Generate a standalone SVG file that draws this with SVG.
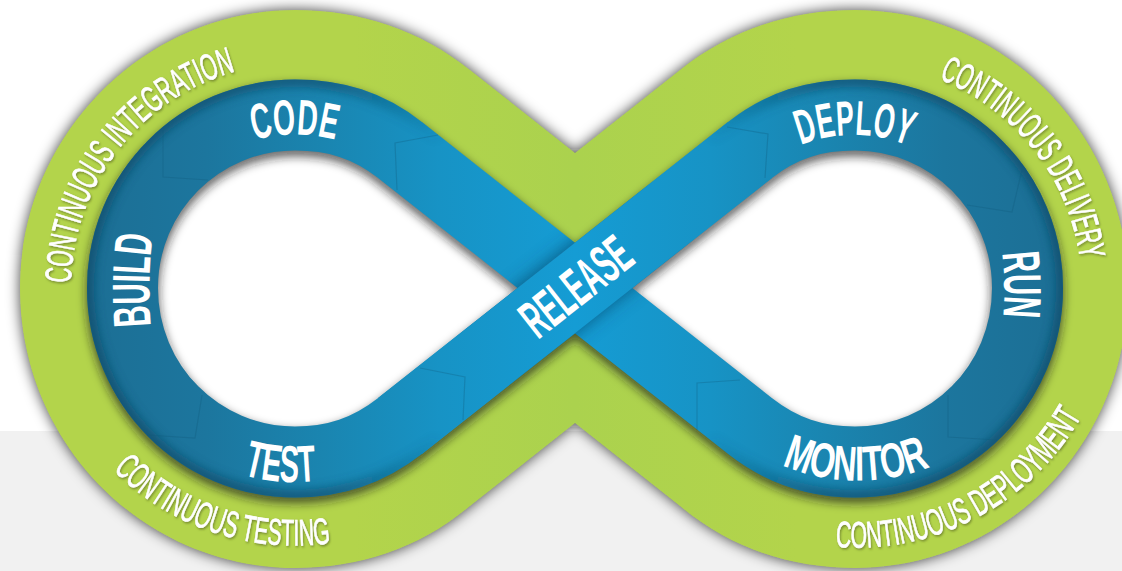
<svg xmlns="http://www.w3.org/2000/svg" width="1122" height="571" viewBox="0 0 1122 571">
<style>
.band{fill:none;stroke-width:71;stroke-linejoin:round}
.seg{fill:none;stroke:#115a7c;stroke-opacity:.3;stroke-width:1.2}
.big{font-family:"Liberation Sans",Arial,sans-serif;font-weight:700;fill:#fff}
.lab{font-family:"Liberation Sans",Arial,sans-serif;font-weight:400;font-size:37px;fill:#fff;stroke:#fff;stroke-width:.7;filter:url(#ts)}
</style>
<defs>
<linearGradient id="blue" gradientUnits="userSpaceOnUse" x1="90" y1="0" x2="1060" y2="0">
<stop offset="0" stop-color="#1c6f95"/><stop offset=".12" stop-color="#1c769e"/><stop offset=".24" stop-color="#1a85b0"/><stop offset=".36" stop-color="#1793c5"/><stop offset=".5" stop-color="#159cd4"/><stop offset=".64" stop-color="#1793c5"/><stop offset=".76" stop-color="#1a85b0"/><stop offset=".88" stop-color="#1c769e"/><stop offset="1" stop-color="#1c6f95"/>
</linearGradient>
<linearGradient id="green" gradientUnits="userSpaceOnUse" x1="20" y1="0" x2="1130" y2="0">
<stop offset=".3" stop-color="#b3d44b"/><stop offset=".5" stop-color="#abd24e"/><stop offset=".7" stop-color="#b3d44b"/>
</linearGradient>
<linearGradient id="edge" gradientUnits="userSpaceOnUse" x1="80" y1="0" x2="1070" y2="0">
<stop offset="0" stop-color="#0f4f6e" stop-opacity=".85"/><stop offset=".25" stop-color="#0f4f6e" stop-opacity=".7"/><stop offset=".37" stop-color="#0f4f6e" stop-opacity="0"/><stop offset=".63" stop-color="#0f4f6e" stop-opacity="0"/><stop offset=".75" stop-color="#0f4f6e" stop-opacity=".7"/><stop offset="1" stop-color="#0f4f6e" stop-opacity=".85"/>
</linearGradient>
<filter id="outer" filterUnits="userSpaceOnUse" x="0" y="0" width="1122" height="571"><feGaussianBlur stdDeviation="7"/></filter>
<filter id="b5" filterUnits="userSpaceOnUse" x="0" y="0" width="1122" height="571"><feGaussianBlur stdDeviation="5"/></filter>
<filter id="b8" filterUnits="userSpaceOnUse" x="0" y="0" width="1122" height="571"><feGaussianBlur stdDeviation="9"/></filter>
<filter id="ts" x="-10%" y="-10%" width="120%" height="120%"><feDropShadow dx="1" dy="1.500" stdDeviation=".8" flood-color="#5b6b20" flood-opacity=".7"/></filter>
<path id="loop" d="M400 150C368 125 335 115 295 115C200 115 122.500 192 122.500 288C122.500 385 200 462 295 462C335 462 368 451 400 426L575 288L750 150C782 125 815 115 855 115C950 115 1027.500 192 1027.500 288C1027.500 385 950 462 855 462C815 462 782 451 750 426L400 150Z"/>
<mask id="bandMask" maskUnits="userSpaceOnUse" x="0" y="0" width="1122" height="571"><use href="#loop" fill="none" stroke="#fff" stroke-width="71"/></mask>
<path id="pCode" d="M254 140A155 155 0 0 1 336 140"/>
<path id="pDeploy" d="M801 145A145 145 0 0 1 907 145"/>
<path id="pBuild" d="M151 326Q147 280 153 235"/>
<path id="pRun" d="M1002 253Q1006 285 1003 317"/>
<path id="pTest" d="M243 475A195 195 0 0 0 317 481"/>
<path id="pMonitor" d="M782 465A194 194 0 0 0 932 466"/>
<path id="pCI" d="M71 283A224 224 0 0 1 237 71"/>
<path id="pCT" d="M113 470A257 257 0 0 0 331 543"/>
<path id="pCDep" d="M835.500 547A260 260 0 0 0 1081 417"/>
<path id="pCDel" d="M939 79A226 226 0 0 1 1080 260"/>
</defs>
<rect width="1122" height="571" fill="#fff"/>
<rect y="431" width="1122" height="140" fill="#f1f1f1"/>
<g id="outer-ring">
<path id="ring-shadow" d="M575 153L470 70C420 30 360 10 295 10C145 10 20 135 20 288C20 445 145 568 295 568C360 568 420 548 470 506L575 423L680 506C730 548 790 568 855 568C1005 568 1128 445 1128 288C1128 135 1005 10 855 10C790 10 730 30 680 70Z" fill="#111" fill-opacity=".75" filter="url(#outer)"/>
<path id="ring" d="M575 153L470 70C420 30 360 10 295 10C145 10 20 135 20 288C20 445 145 568 295 568C360 568 420 548 470 506L575 423L680 506C730 548 790 568 855 568C1005 568 1128 445 1128 288C1128 135 1005 10 855 10C790 10 730 30 680 70Z" fill="url(#green)"/>
<use href="#loop" fill="#fff"/>
</g>
<g id="band-shadow"><use href="#loop" transform="translate(0 5)" fill="none" stroke="#1a1a1a" stroke-opacity=".65" stroke-width="73" filter="url(#b5)"/></g>
<g id="blue-band">
<use href="#loop" class="band" stroke="url(#blue)"/>
<g mask="url(#bandMask)"><path d="M480 362L670 212" fill="none" stroke="#0b4263" stroke-opacity=".75" stroke-width="71" filter="url(#b8)"/></g>
<path id="release-strip" class="band" d="M400 426L750 150" stroke="url(#blue)"/>
<g mask="url(#bandMask)">
<path d="M440 135C395 100 345 80 295 80C180 80 87 170 87 288C87 405 180 497 295 497C345 497 395 478 440 442M710 135C755 100 805 80 855 80C970 80 1063 170 1063 288C1063 405 970 497 855 497C805 497 755 478 710 442" fill="none" stroke="url(#edge)" stroke-width="14" filter="url(#b5)"/>
</g>
</g>
<g id="segment-lines">
<path class="seg" d="M163 130L163 177L208 180"/>
<path class="seg" d="M438 135L395 143L397 190"/>
<path class="seg" d="M420 368L465 377L463 420"/>
<path class="seg" d="M740 380L697 383L697 430"/>
<path class="seg" d="M948 395L948 437L997 440"/>
<path class="seg" d="M727 127L768 134L765 178"/>
<path class="seg" d="M1022 170L1012 212L967 205"/>
<path class="seg" d="M202 395L195 438L147 435"/>
</g>
<g id="stage-labels">
<text class="big" font-size="50" textLength="82" lengthAdjust="spacingAndGlyphs"><textPath href="#pCode">CODE</textPath></text>
<text class="big" font-size="49" textLength="110" lengthAdjust="spacingAndGlyphs"><textPath href="#pDeploy">DEPLOY</textPath></text>
<text class="big" font-size="53" textLength="91" lengthAdjust="spacingAndGlyphs"><textPath href="#pBuild">BUILD</textPath></text>
<text class="big" font-size="53" textLength="64" lengthAdjust="spacingAndGlyphs"><textPath href="#pRun">RUN</textPath></text>
<text class="big" font-size="52" textLength="74" lengthAdjust="spacingAndGlyphs"><textPath href="#pTest">TEST</textPath></text>
<text class="big" font-size="49" textLength="152" lengthAdjust="spacingAndGlyphs"><textPath href="#pMonitor">MONITOR</textPath></text>
<text class="big" font-size="54" transform="translate(538 340) rotate(-38.200)" textLength="126" lengthAdjust="spacingAndGlyphs">RELEASE</text>
</g>
<g id="practice-labels">
<text class="lab" textLength="287" lengthAdjust="spacingAndGlyphs"><textPath href="#pCI">CONTINUOUS INTEGRATION</textPath></text>
<text class="lab" textLength="238" lengthAdjust="spacingAndGlyphs"><textPath href="#pCT">CONTINUOUS TESTING</textPath></text>
<text class="lab" textLength="294" lengthAdjust="spacingAndGlyphs"><textPath href="#pCDep">CONTINUOUS DEPLOYMENT</textPath></text>
<text class="lab" textLength="240" lengthAdjust="spacingAndGlyphs"><textPath href="#pCDel">CONTINUOUS DELIVERY</textPath></text>
</g>
</svg>
